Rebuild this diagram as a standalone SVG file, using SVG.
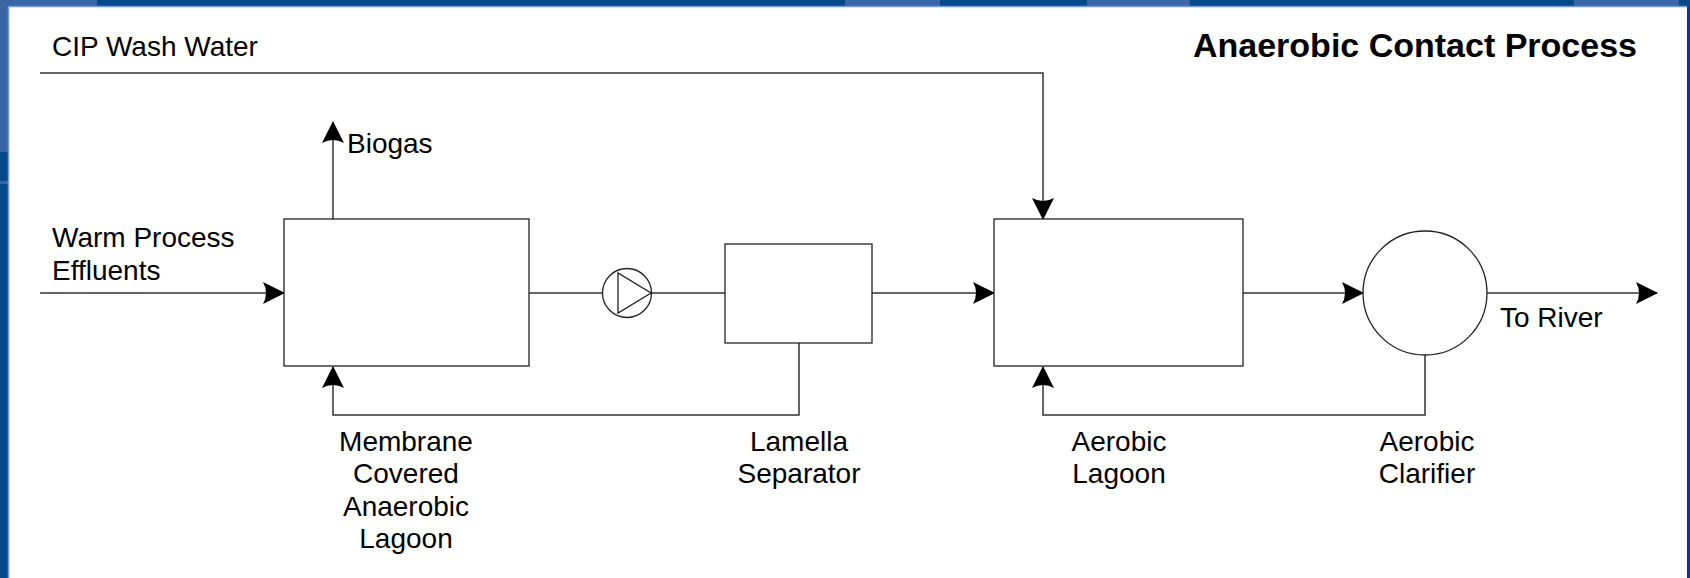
<svg xmlns="http://www.w3.org/2000/svg" width="1690" height="578" viewBox="0 0 1690 578">
<style>
.t{font-family:"Liberation Sans",Arial,sans-serif;font-size:28px;fill:#000}
.c{text-anchor:middle}
.ttl{font-family:"Liberation Sans",Arial,sans-serif;font-size:34px;font-weight:bold;fill:#000;text-anchor:end}
.box{fill:#fff;stroke:#222;stroke-width:1.3}
.ln{fill:none;stroke:#333;stroke-width:1.5}
</style>
<defs>
<marker id="ah" viewBox="0 0 22 22" refX="21" refY="11" markerWidth="22" markerHeight="22" markerUnits="userSpaceOnUse" orient="auto">
<path d="M0,0 L22,11 L0,22 Q6,11 0,0 Z" fill="#000"/>
</marker>
</defs>
<g id="frame">
<rect x="0" y="0" width="1690" height="578" fill="#064a8a"/>
<rect x="0" y="0" width="97" height="7" fill="#3a66a6"/>
<rect x="845" y="0" width="95" height="7" fill="#3a66a6"/>
<rect x="1087" y="0" width="103" height="7" fill="#3a66a6"/>
<rect x="1574" y="0" width="105" height="7" fill="#3a66a6"/>
<rect x="0" y="0" width="8" height="152" fill="#3a66a6"/>
<rect x="0" y="181" width="8" height="3" fill="#3a66a6"/>
<rect x="1686" y="7" width="4" height="571" fill="#0a35a5"/>
<rect x="8" y="6" width="1679" height="572" fill="#fff"/>
<line x1="8.5" y1="6" x2="8.5" y2="578" stroke="#6f9be6" stroke-width="1.5"/>
<line x1="8" y1="6.5" x2="1687" y2="6.5" stroke="#6f9be6" stroke-width="1.5"/>
</g>
<text class="ttl" x="1637" y="57">Anaerobic Contact Process</text>
<g id="connectors">
<path class="ln" d="M40,73 H1043 V219" marker-end="url(#ah)"/>
<path class="ln" d="M40,293 H284" marker-end="url(#ah)"/>
<path class="ln" d="M333,219 V122" marker-end="url(#ah)"/>
<path class="ln" d="M529,293 H603"/>
<path class="ln" d="M651,293 H725"/>
<path class="ln" d="M799,343 V415 H333 V367" marker-end="url(#ah)"/>
<path class="ln" d="M872,293 H994" marker-end="url(#ah)"/>
<path class="ln" d="M1243,293 H1363" marker-end="url(#ah)"/>
<path class="ln" d="M1487,293 H1657" marker-end="url(#ah)"/>
<path class="ln" d="M1425,355 V415 H1043 V367" marker-end="url(#ah)"/>
</g>
<g id="cip-label"><text class="t" x="52" y="56">CIP Wash Water</text></g>
<g id="inlet-label"><text class="t" x="52" y="247">Warm Process</text><text class="t" x="52" y="280">Effluents</text></g>
<g id="biogas-label"><text class="t" x="347" y="153">Biogas</text></g>
<g id="anaerobic-lagoon">
<rect class="box" x="284" y="219" width="245" height="147"/>
<text class="t c" x="406" y="451">Membrane</text>
<text class="t c" x="406" y="483">Covered</text>
<text class="t c" x="406" y="516">Anaerobic</text>
<text class="t c" x="406" y="548">Lagoon</text>
</g>
<g id="pump">
<circle cx="627" cy="293" r="24.5" fill="#fff" stroke="#222" stroke-width="1.3"/>
<path d="M618,273 L618,313 L651,293 Z" fill="none" stroke="#222" stroke-width="1.3"/>
</g>
<g id="lamella-separator">
<rect class="box" x="725" y="244" width="147" height="99"/>
<text class="t c" x="799" y="451">Lamella</text>
<text class="t c" x="799" y="483">Separator</text>
</g>
<g id="aerobic-lagoon">
<rect class="box" x="994" y="219" width="249" height="147"/>
<text class="t c" x="1119" y="451">Aerobic</text>
<text class="t c" x="1119" y="483">Lagoon</text>
</g>
<g id="aerobic-clarifier">
<circle cx="1425" cy="293" r="62" fill="#fff" stroke="#222" stroke-width="1.3"/>
<text class="t c" x="1427" y="451">Aerobic</text>
<text class="t c" x="1427" y="483">Clarifier</text>
</g>
<g id="river-label"><text class="t" x="1500" y="327">To River</text></g>
</svg>
